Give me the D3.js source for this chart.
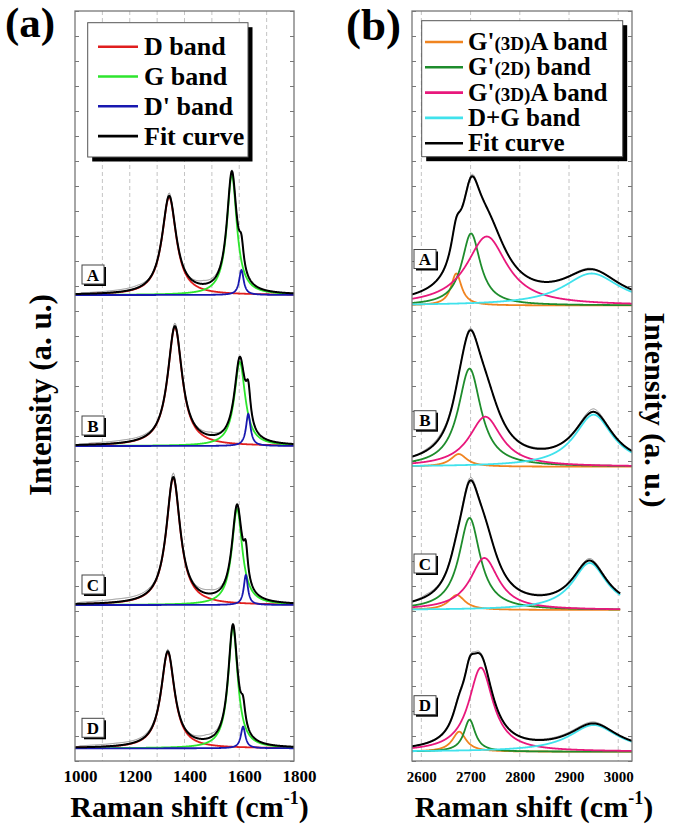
<!DOCTYPE html>
<html><head><meta charset="utf-8">
<script src="https://cdn.jsdelivr.net/npm/d3@7"></script>
<style>
body{margin:0;background:#fff;}
svg{display:block;font-family:"Liberation Serif","Times New Roman",serif;font-weight:bold;}
</style></head><body>
<svg id="c" width="675" height="828"></svg>
<script>
// ---------- Panel (a): D / G / D' region ----------
const spectraA = ["A", "B", "C", "D"];
const offsetsA = [466, 315, 156, 12.7];               // baseline of each stacked spectrum (a.u.)
const bandsA = ["D band", "G band", "D' band"];
const centersA = [[1344, 1573, 1608], [1365, 1602, 1633], [1359, 1592, 1624], [1339, 1577, 1614]];
const heightsA = [[98, 120, 25], [119, 84, 32], [127, 96, 30], [96, 121, 21.6]];
const fwhmA    = [[63, 44, 20], [64, 48, 20], [62, 46, 18], [60, 42, 20]];
const limitsA  = [[1000, 1800], [1000, 1800], [1000, 1800], [1000, 1800]];
const residA = [
  [[1000,0],[1030,1],[1150,2],[1230,2.5],[1290,0.5],[1330,1],[1344,3],[1370,0],[1420,1],[1470,3.5],[1520,2],[1545,0],[1575,1.5],[1600,0],[1800,0]],
  [[1000,0],[1060,1.5],[1180,2.5],[1260,2],[1320,0],[1365,3],[1400,0],[1450,1.5],[1495,3],[1530,1],[1560,0],[1600,1],[1640,0],[1800,0]],
  [[1000,0],[1020,1.5],[1150,3],[1270,2.5],[1320,0],[1359,4],[1390,0],[1440,2],[1490,4],[1535,2],[1560,0],[1595,1.5],[1620,0],[1800,0]],
  [[1000,0],[1020,1.5],[1150,2.5],[1280,2],[1320,0],[1339,2],[1370,0],[1430,1.5],[1480,4],[1530,2],[1550,0],[1580,1],[1610,0],[1800,0]]
];
const ticksA = [1000, 1200, 1400, 1600, 1800];
const gridA = [1100, 1200, 1300, 1400, 1500, 1600, 1700];
const coloursA = ["#e01e1e", "#2ee52e", "#1818b0"];

// ---------- Panel (b): G' / D+G region ----------
const spectraB = ["A", "B", "C", "D"];
const offsetsB = [455.5, 294.3, 151, 9.3];
const bandsB = [["G'", "(3D)", "A band"], ["G'", "(2D)", " band"], ["G'", "(3D)", "A band"], ["D+G band"]];
const centersB = [[2671, 2701, 2733, 2946], [2676, 2698, 2730, 2950], [2672, 2698, 2728, 2942], [2677, 2698, 2721, 2950]];
const heightsB = [[32, 72, 69, 32], [12.7, 98, 50, 52], [15, 92, 52, 47], [20, 32, 84, 26.7]];
const fwhmB    = [[26, 46, 100, 140], [40, 56, 80, 95], [40, 52, 70, 85], [34, 28, 60, 120]];
const limitsB  = [[2581, 3028], [2581, 3028], [2581, 3004], [2581, 3028]];
const residB = [
  [[2581,0],[2640,0.5],[2690,1.5],[2707,2],[2730,0],[2800,0],[2940,1],[2960,0],[3028,0]],
  [[2581,0],[2610,1.5],[2640,2.5],[2670,1],[2700,2],[2720,0],[2830,1],[2900,0],[2950,3],[2975,1],[3028,0]],
  [[2581,0],[2610,2],[2650,1],[2701,3],[2730,0],[2840,1],[2900,0],[2942,2],[2980,1],[3004,0]],
  [[2581,0],[2650,1],[2716,2],[2750,0],[2850,1],[2950,1.5],[3000,0],[3028,0]]
];
const ticksB = [2600, 2700, 2800, 2900, 3000];
const gridB = [2600, 2700, 2800, 2900, 3000];
const coloursB = ["#f08420", "#1e8c2c", "#e8187c", "#40e2ec"];

const fitLabel = "Fit curve";

// ---------- drawing ----------
const svg = d3.select("#c");
const plotTop = 11, plotBottom = 761;
const y = d3.scaleLinear().domain([0, 750]).range([plotBottom, plotTop]);
const yTicks = d3.range(0, 751, 25);
const SERIF = '"Liberation Serif", "Times New Roman", serif';

function lor(v, c, h, w) { const g = w / 2; return h / (1 + ((v - c) / g) ** 2); }

function panel(cfg) {
  const x = cfg.x;
  const [x0, x1] = x.range();
  const g = svg.append("g");
  const clipId = "clip" + cfg.id;
  svg.append("defs").append("clipPath").attr("id", clipId)
    .append("rect").attr("x", x0).attr("y", plotTop).attr("width", x1 - x0).attr("height", plotBottom - plotTop);

  g.selectAll("line.grid").data(cfg.grid).join("line")
    .attr("x1", d => x(d)).attr("x2", d => x(d)).attr("y1", plotTop).attr("y2", plotBottom)
    .attr("stroke", "#bdbdbd").attr("stroke-width", 0.9).attr("stroke-dasharray", "4,3");

  const la = g.append("g").attr("transform", `translate(${x0},0)`)
    .call(d3.axisLeft(y).tickValues(yTicks).tickSize(-4).tickFormat(""));
  const ra = g.append("g").attr("transform", `translate(${x1},0)`)
    .call(d3.axisRight(y).tickValues(yTicks).tickSize(-4).tickFormat(""));
  [la, ra].forEach(a => { a.select(".domain").remove(); a.selectAll("line").attr("stroke", "#777"); });

  const curves = g.append("g").attr("clip-path", `url(#${clipId})`);
  const line = d3.line().x(d => x(d[0])).y(d => y(d[1]));

  cfg.spectra.forEach((name, i) => {
    const off = cfg.offsets[i];
    const [a, b] = cfg.limits[i];
    const grid = d3.range(a, b + 0.001, cfg.step);
    const comps = cfg.centers[i].map((c, k) => grid.map(v => [v, off + lor(v, c, cfg.heights[i][k], cfg.fwhm[i][k])]));
    const fit = grid.map(v => [v, off + d3.sum(cfg.centers[i], (c, k) => lor(v, c, cfg.heights[i][k], cfg.fwhm[i][k]))]);
    const rs = d3.scaleLinear().domain(cfg.resid[i].map(d => d[0])).range(cfg.resid[i].map(d => d[1])).clamp(true);
    const raw = fit.map(d => [d[0], d[1] + rs(d[0])]);

    curves.append("path").attr("d", line(raw)).attr("fill", "none")
      .attr("stroke", "#707070").attr("stroke-width", 0.8);
    comps.forEach((pts, k) => {
      curves.append("path").attr("d", line(pts)).attr("fill", "none")
        .attr("stroke", cfg.colours[k]).attr("stroke-width", 1.8);
    });
    curves.append("path").attr("d", line(fit)).attr("fill", "none")
      .attr("stroke", "#000").attr("stroke-width", 2);

    const by = y(off) - cfg.boxLift;
    const bx = cfg.boxX;
    g.append("rect").attr("x", bx + 2).attr("y", by - 18).attr("width", 22).attr("height", 19).attr("fill", "#000");
    g.append("rect").attr("x", bx).attr("y", by - 20).attr("width", 22).attr("height", 19)
      .attr("fill", "#fff").attr("stroke", "#444").attr("stroke-width", 1);
    g.append("text").attr("x", bx + 11).attr("y", by - 4.5).attr("text-anchor", "middle")
      .attr("font-size", 17).text(name);
  });

  g.append("rect").attr("x", x0).attr("y", plotTop).attr("width", x1 - x0).attr("height", plotBottom - plotTop)
    .attr("fill", "none").attr("stroke", "#777").attr("stroke-width", 1.3);

  const xa = g.append("g").attr("transform", `translate(${cfg.labelDx},${plotBottom})`)
    .call(d3.axisBottom(x).tickValues(cfg.ticks).tickSize(0).tickPadding(cfg.pad).tickFormat(d3.format("d")));
  xa.select(".domain").remove();
  xa.attr("font-family", null).attr("font-size", null);
  xa.selectAll("text")
    .style("font-family", SERIF).style("font-weight", "bold").style("font-size", cfg.tickFont + "px")
    .attr("fill", "#000");

  const xl = svg.append("text").attr("x", (x0 + x1) / 2 + cfg.xTitleDx).attr("y", 817)
    .attr("text-anchor", "middle").attr("font-size", 30);
  xl.append("tspan").text("Raman shift (cm");
  xl.append("tspan").attr("font-size", 18).attr("dy", -13).text("-1");
  xl.append("tspan").attr("dy", 13).text(")");
}

panel({
  id: "a", x: d3.scaleLinear().domain([1000, 1800]).range([75, 294]),
  spectra: spectraA, offsets: offsetsA, centers: centersA, heights: heightsA, fwhm: fwhmA,
  limits: limitsA, resid: residA, colours: coloursA, grid: gridA, ticks: ticksA, step: 1,
  boxX: 82, boxLift: 10, labelDx: 5, pad: 9, tickFont: 17, xTitleDx: 5
});
panel({
  id: "b", x: d3.scaleLinear().domain([2581, 3028]).range([412, 632]),
  spectra: spectraB, offsets: offsetsB, centers: centersB, heights: heightsB, fwhm: fwhmB,
  limits: limitsB, resid: residB, colours: coloursB, grid: gridB, ticks: ticksB, step: 0.5,
  boxX: 414, boxLift: 36, labelDx: 0, pad: 10, tickFont: 15, xTitleDx: 12
});

svg.append("text").attr("x", 5).attr("y", 37).attr("font-size", 43).text("(a)");
svg.append("text").attr("x", 346).attr("y", 40).attr("font-size", 45).text("(b)");

svg.append("text").attr("transform", "translate(51,395) rotate(-90)").attr("text-anchor", "middle")
  .attr("font-size", 31).text("Intensity (a. u.)");
svg.append("text").attr("transform", "translate(645,410) rotate(90)").attr("text-anchor", "middle")
  .attr("font-size", 30).text("Intensity (a. u.)");

(function () {
  const lx = 87.7, ly = 22.7, lw = 160.3, lh = 134.3;
  const g = svg.append("g");
  g.append("rect").attr("x", lx + 4.5).attr("y", ly + 4.5).attr("width", lw).attr("height", lh).attr("fill", "#000");
  g.append("rect").attr("x", lx).attr("y", ly).attr("width", lw).attr("height", lh)
    .attr("fill", "#fff").attr("stroke", "#555").attr("stroke-width", 1);
  const items = bandsA.map((b, i) => ({ t: b, c: coloursA[i] })).concat([{ t: fitLabel, c: "#000" }]);
  items.forEach((d, i) => {
    const cy = 46.7 + i * 29.8;
    g.append("line").attr("x1", 98).attr("x2", 138).attr("y1", cy).attr("y2", cy)
      .attr("stroke", d.c).attr("stroke-width", 2.6);
    g.append("text").attr("x", 144).attr("y", cy + 8.7).attr("font-size", 26).text(d.t);
  });
})();

(function () {
  const lx = 421.7, ly = 20.7, lw = 201, lh = 136;
  const g = svg.append("g");
  g.append("rect").attr("x", lx + 4.5).attr("y", ly + 4.5).attr("width", lw).attr("height", lh).attr("fill", "#000");
  g.append("rect").attr("x", lx).attr("y", ly).attr("width", lw).attr("height", lh)
    .attr("fill", "#fff").attr("stroke", "#555").attr("stroke-width", 1);
  const items = bandsB.map((b, i) => ({ t: b, c: coloursB[i] })).concat([{ t: [fitLabel], c: "#000" }]);
  items.forEach((d, i) => {
    const cy = 42 + i * 25.3;
    g.append("line").attr("x1", 425).attr("x2", 463).attr("y1", cy).attr("y2", cy)
      .attr("stroke", d.c).attr("stroke-width", 2.6);
    const t = g.append("text").attr("x", 468).attr("y", cy + 8).attr("font-size", 25);
    d.t.forEach(s => {
      t.append("tspan").attr("font-size", s.startsWith("(") ? 19 : 25).text(s);
    });
  });
})();
</script>
</body></html>
